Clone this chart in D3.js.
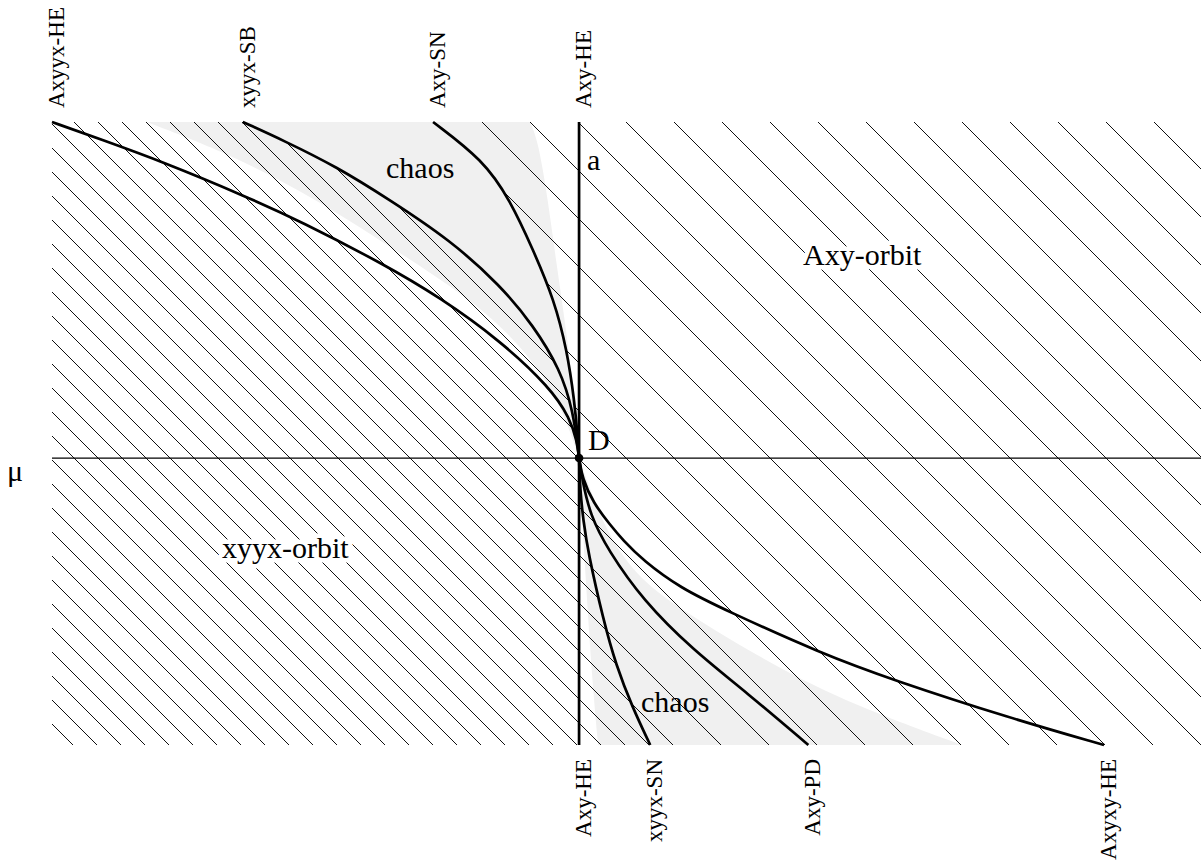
<!DOCTYPE html>
<html>
<head>
<meta charset="utf-8">
<script src="https://cdn.jsdelivr.net/npm/d3@7"></script>
<style>
  body { margin: 0; background: #fff; }
  svg { display: block; }
  text { font-family: "Liberation Serif", "Times New Roman", serif; fill: #000; }
</style>
</head>
<body>
<div id="chart"></div>
<script>
const width = 1201, height = 865;

// parameter plane: mu horizontal, a vertical, D at the origin
const muDomain = [-1, 1.18];
const aDomain = [-0.854, 1];

// bifurcation curves as [mu, a]
const axyyxHE = [[-1, 1], [-0.909, 0.949], [-0.789, 0.881], [-0.630, 0.777], [-0.529, 0.705], [-0.372, 0.578],
  [-0.264, 0.478], [-0.150, 0.350], [-0.055, 0.210], [-0.017, 0.118], [-0.004, 0.050], [0, 0]];
const xyyxSB = [[-0.638, 1], [-0.562, 0.946], [-0.459, 0.866], [-0.359, 0.768], [-0.245, 0.649], [-0.150, 0.515],
  [-0.087, 0.395], [-0.036, 0.265], [-0.011, 0.140], [0, 0]];
const axySN = [[-0.277, 1], [-0.182, 0.887], [-0.131, 0.768], [-0.087, 0.619], [-0.047, 0.470], [-0.023, 0.321],
  [-0.009, 0.173], [-0.002, 0.054], [0, 0]];
const xyyxSN = [[0, 0], [0.002, -0.095], [0.008, -0.185], [0.017, -0.280], [0.046, -0.482], [0.070, -0.616],
  [0.101, -0.741], [0.135, -0.854]];
const axyPD = [[0, 0], [0.006, -0.065], [0.021, -0.170], [0.055, -0.274], [0.121, -0.423], [0.216, -0.571],
  [0.319, -0.699], [0.435, -0.854]];
const axyxyHE = [[0, 0], [0.006, -0.060], [0.027, -0.134], [0.059, -0.199], [0.083, -0.244], [0.121, -0.304],
  [0.192, -0.387], [0.281, -0.455], [0.457, -0.580], [0.596, -0.661], [0.818, -0.774], [0.996, -0.854]];

// chaotic zones (grey)
const grayTopLeft = [[-0.820, 1], [-0.681, 0.917], [-0.529, 0.798], [-0.378, 0.649], [-0.201, 0.470],
  [-0.112, 0.336], [-0.055, 0.217], [-0.021, 0.098], [0, 0]];
const grayTopRight = [[0, 0], [-0.004, 0.083], [-0.013, 0.232], [-0.027, 0.411], [-0.044, 0.589],
  [-0.059, 0.768], [-0.078, 0.946], [-0.093, 1]];
const grayBotLeft = [[0, 0], [0.006, -0.185], [0.015, -0.423], [0.025, -0.661], [0.036, -0.854]];
const grayBotRight = [[0.727, -0.854], [0.571, -0.765], [0.406, -0.652], [0.216, -0.473], [0.125, -0.378],
  [0.059, -0.244], [0.021, -0.095], [0, 0]];

// curve end labels
const topLabels = ["Axyyx-HE", "xyyx-SB", "Axy-SN", "Axy-HE"];
const topLabelMu = [-1, -0.638, -0.277, 0];
const bottomLabels = ["Axy-HE", "xyyx-SN", "Axy-PD", "Axyxy-HE"];
const bottomLabelMu = [0, 0.135, 0.435, 0.996];

const x = d3.scaleLinear().domain(muDomain).range([52, 1201]);
const y = d3.scaleLinear().domain(aDomain).range([745, 122]);

const smooth = d3.line().x(d => x(d[0])).y(d => y(d[1])).curve(d3.curveBasis);
const straight = d3.line().x(d => x(d[0])).y(d => y(d[1]));

function regionPath(parts) {
  let s = "";
  parts.forEach(p => {
    const seg = (p.curve ? smooth : straight)(p.pts);
    s += s ? "L" + seg.slice(1) : seg;
  });
  return s + "Z";
}

const svg = d3.select("#chart").append("svg")
    .attr("width", width)
    .attr("height", height);

const defs = svg.append("defs");
defs.append("clipPath").attr("id", "plot")
  .append("rect")
    .attr("x", x(muDomain[0])).attr("y", y(aDomain[1]))
    .attr("width", x(muDomain[1]) - x(muDomain[0]))
    .attr("height", y(aDomain[0]) - y(aDomain[1]));

// hatch patterns: dense every 24px, sparse every 48px (same lattice)
const dense = defs.append("pattern").attr("id", "dense")
    .attr("patternUnits", "userSpaceOnUse").attr("width", 24).attr("height", 24);
dense.append("path")
    .attr("d", "M-6,-6L30,30M18,-6L30,6M-6,18L6,30")
    .attr("stroke", "#111").attr("stroke-width", 1);
const sparse = defs.append("pattern").attr("id", "sparse")
    .attr("patternUnits", "userSpaceOnUse").attr("width", 48).attr("height", 48);
sparse.append("path")
    .attr("d", "M18,-6L54,30M-6,18L30,54M42,-6L54,6M-6,42L6,54")
    .attr("stroke", "#111").attr("stroke-width", 1);

const g = svg.append("g").attr("clip-path", "url(#plot)");

// grey chaos zones
g.append("path")
    .attr("d", regionPath([{curve: true, pts: grayTopLeft}, {curve: true, pts: grayTopRight}]))
    .attr("fill", "#f0f0f0");
g.append("path")
    .attr("d", regionPath([{curve: true, pts: grayBotLeft}, {curve: true, pts: grayBotRight}]))
    .attr("fill", "#f0f0f0");

// xyyx-orbit region (dense) and Axy-orbit region (sparse)
g.append("path")
    .attr("d", regionPath([
      {pts: [[muDomain[0], aDomain[1]]]},
      {curve: true, pts: xyyxSB},
      {curve: true, pts: xyyxSN},
      {pts: [[muDomain[0], aDomain[0]]]}
    ]))
    .attr("fill", "url(#dense)");
g.append("path")
    .attr("d", regionPath([
      {curve: true, pts: axySN},
      {pts: [[0, aDomain[0]], [muDomain[1], aDomain[0]], [muDomain[1], aDomain[1]]]}
    ]))
    .attr("fill", "url(#sparse)");

// mu axis
svg.append("line")
    .attr("x1", x(muDomain[0])).attr("x2", x(muDomain[1]))
    .attr("y1", y(0)).attr("y2", y(0))
    .attr("stroke", "#000").attr("stroke-width", 1.3);

// region labels
const halo = sel => sel.attr("stroke", "#fff").attr("stroke-width", 9)
    .attr("stroke-linejoin", "round").attr("paint-order", "stroke");
svg.append("text").attr("x", 222).attr("y", 558).attr("font-size", 30).text("xyyx-orbit").call(halo);
svg.append("text").attr("x", 803).attr("y", 265).attr("font-size", 30).text("Axy-orbit").call(halo);
svg.append("text").attr("x", 386).attr("y", 178).attr("font-size", 30).text("chaos");
svg.append("text").attr("x", 641).attr("y", 712).attr("font-size", 30).text("chaos");

// bifurcation curves
[axyyxHE, xyyxSB, axySN, xyyxSN, axyPD, axyxyHE].forEach(c => {
  svg.append("path")
      .attr("d", smooth(c))
      .attr("fill", "none")
      .attr("stroke", "#000")
      .attr("stroke-width", 2.7);
});

// a axis (Axy-HE)
svg.append("line")
    .attr("x1", x(0)).attr("x2", x(0))
    .attr("y1", y(aDomain[1])).attr("y2", y(aDomain[0]))
    .attr("stroke", "#000").attr("stroke-width", 2.7);

svg.append("circle").attr("cx", x(0)).attr("cy", y(0)).attr("r", 4.3).attr("fill", "#000");

svg.append("text").attr("x", 588).attr("y", 450).attr("font-size", 30).text("D");
svg.append("text").attr("x", 587).attr("y", 170).attr("font-size", 30).text("a");
svg.append("text").attr("x", 7).attr("y", 481).attr("font-size", 30).text("μ");

// rotated curve labels
svg.selectAll(".top-label").data(topLabels).join("text")
    .attr("class", "top-label")
    .attr("font-size", 23)
    .attr("transform", (d, i) => `translate(${x(topLabelMu[i]) + 12},${y(aDomain[1]) - 14}) rotate(-90)`)
    .text(d => d);

svg.selectAll(".bottom-label").data(bottomLabels).join("text")
    .attr("class", "bottom-label")
    .attr("font-size", 23)
    .attr("text-anchor", "end")
    .attr("transform", (d, i) => `translate(${x(bottomLabelMu[i]) + 12},${y(aDomain[0]) + 14}) rotate(-90)`)
    .text(d => d);
</script>
</body>
</html>
